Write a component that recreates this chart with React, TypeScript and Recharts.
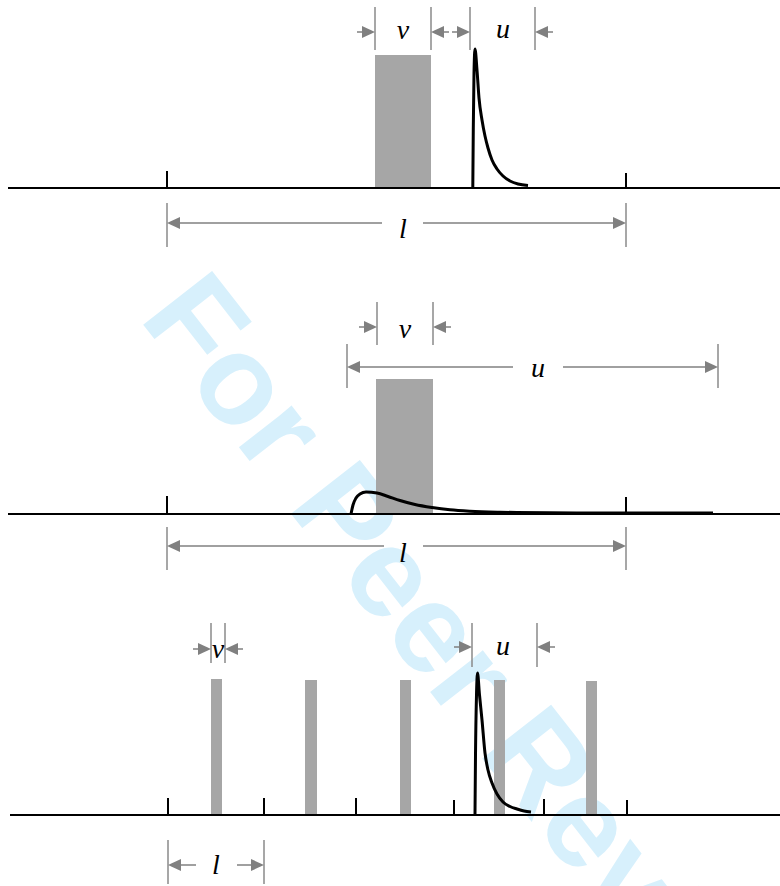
import React from "react";
import { ComposedChart, Line, XAxis, YAxis, ReferenceLine, ReferenceArea, ReferenceDot } from "recharts";

// x = position along the axis, y = amplitude above the baseline (same units in every panel)

// panel 1: one wide pulse, sharp response outside it
const ticks1 = [167, 626];
const tickLen1 = [17, 15];
const pulses1 = [{ x1: 375, x2: 431, h: 133 }];
const response1 = [
  { x: 472.8, y: 1 }, { x: 473.3, y: 60 }, { x: 474, y: 115 }, { x: 475, y: 139 }, { x: 477, y: 118 },
  { x: 479, y: 90 }, { x: 482, y: 68 }, { x: 485, y: 52 }, { x: 488, y: 40 },
  { x: 492, y: 28 }, { x: 497, y: 19 }, { x: 503, y: 12 }, { x: 510, y: 7 },
  { x: 518, y: 4 }, { x: 528, y: 2.5 },
];
const dims1 = [
  { kind: "in", x1: 375, x2: 431, lo: 138, hi: 181, at: 156, label: "ν", lx: 403, ly: 149 },
  { kind: "in", x1: 470, x2: 535, lo: 138, hi: 181, at: 156, label: "u", lx: 503, ly: 150 },
  { kind: "out", x1: 167, x2: 626, lo: -59, hi: -15, at: -35, gap: [382, 423], label: "l", lx: 403, ly: -50 },
];

// panel 2: same pulse, long low response
const ticks2 = [167, 626];
const tickLen2 = [18, 17];
const pulses2 = [{ x1: 376, x2: 433, h: 135 }];
const response2 = [
  { x: 351, y: 0 }, { x: 353, y: 9 }, { x: 356, y: 16 }, { x: 360, y: 20 },
  { x: 366, y: 22 }, { x: 377, y: 21 }, { x: 388, y: 17.5 }, { x: 400, y: 13.5 },
  { x: 415, y: 9.5 }, { x: 432, y: 6.5 }, { x: 450, y: 4.2 }, { x: 470, y: 2.8 },
  { x: 500, y: 1.8 }, { x: 550, y: 1.2 }, { x: 620, y: 1 }, { x: 713, y: 1 },
];
const dims2 = [
  { kind: "in", x1: 377, x2: 433, lo: 169, hi: 212, at: 187, label: "ν", lx: 405, ly: 176 },
  { kind: "out", x1: 347, x2: 718, lo: 126, hi: 170, at: 147, gap: [513, 563], label: "u", lx: 538, ly: 137 },
  { kind: "out", x1: 167, x2: 626, lo: -56, hi: -13, at: -32, gap: [384, 423], label: "l", lx: 403, ly: -48 },
];

// panel 3: periodic narrow pulses
const ticks3 = [168, 264, 356, 454, 544, 627];
const tickLen3 = [17, 17, 17, 15, 16, 15];
const pulses3 = [
  { x1: 211, x2: 222, h: 136 }, { x1: 305, x2: 317, h: 135 }, { x1: 400, x2: 411, h: 135 },
  { x1: 494, x2: 505, h: 135 }, { x1: 586, x2: 597, h: 134 },
];
const response3 = [
  { x: 475, y: 1 }, { x: 475.5, y: 60 }, { x: 476.5, y: 120 }, { x: 477.5, y: 142 }, { x: 479.5, y: 120 },
  { x: 482, y: 95 }, { x: 485, y: 62 }, { x: 488, y: 45 }, { x: 492, y: 32 },
  { x: 497, y: 21 }, { x: 503, y: 13 }, { x: 510, y: 8.5 }, { x: 517, y: 6 },
  { x: 524, y: 4 }, { x: 531, y: 3 },
];
const dims3 = [
  { kind: "in", x1: 211, x2: 225, lo: 152, hi: 192, at: 166, label: "ν", lx: 218, ly: 157 },
  { kind: "in", x1: 472, x2: 537, lo: 148, hi: 192, at: 168, label: "u", lx: 503, ly: 160 },
  { kind: "out", x1: 168, x2: 264, lo: -69, hi: -25, at: -50, gap: [196, 237], label: "l", lx: 216, ly: -59 },
];

const GRAY = "#808080";

const Arrow = (p: any) => {
  const { x1, y1, x2, y2 } = p;
  const dx = x2 - x1, dy = y2 - y1;
  const len = Math.hypot(dx, dy) || 1;
  const ux = dx / len, uy = dy / len;
  const bx = x2 - ux * 13, by = y2 - uy * 13;
  return (
    <g>
      <line x1={x1} y1={y1} x2={bx} y2={by} stroke={GRAY} strokeWidth={1.5} />
      <polygon points={`${x2},${y2} ${bx - uy * 6},${by + ux * 6} ${bx + uy * 6},${by - ux * 6}`} fill={GRAY} />
    </g>
  );
};

const symbol = (txt: string) => (p: any) => (
  <text x={p.cx} y={p.cy} textAnchor="middle" fontFamily="Liberation Serif" fontStyle="italic" fontSize={28} fill="#000">
    {txt}
  </text>
);

function renderDim(d: any, i: number) {
  const out = [
    <ReferenceLine key={`e1${i}`} segment={[{ x: d.x1, y: d.lo }, { x: d.x1, y: d.hi }]} stroke="#8a8a8a" strokeWidth={1.5} />,
    <ReferenceLine key={`e2${i}`} segment={[{ x: d.x2, y: d.lo }, { x: d.x2, y: d.hi }]} stroke="#8a8a8a" strokeWidth={1.5} />,
  ];
  const from1 = d.kind === "in" ? d.x1 - 18 : d.gap[0];
  const from2 = d.kind === "in" ? d.x2 + 18 : d.gap[1];
  out.push(<ReferenceLine key={`a1${i}`} segment={[{ x: from1, y: d.at }, { x: d.x1, y: d.at }]} shape={Arrow} />);
  out.push(<ReferenceLine key={`a2${i}`} segment={[{ x: from2, y: d.at }, { x: d.x2, y: d.at }]} shape={Arrow} />);
  out.push(<ReferenceDot key={`l${i}`} x={d.lx} y={d.ly} r={0} shape={symbol(d.label)} />);
  return out;
}

function Panel({ top, height, domain, start, ticks, tickLens, pulses, response, dims }: any) {
  return (
    <div style={{ position: "absolute", left: 0, top, width: 780, height }}>
      <ComposedChart width={780} height={height} data={response} margin={{ top: 0, right: 0, bottom: 0, left: 0 }}>
        <XAxis hide type="number" dataKey="x" domain={[0, 780]} allowDataOverflow />
        <YAxis hide type="number" domain={domain} allowDataOverflow />
        {pulses.map((p: any, i: number) => (
          <ReferenceArea key={`p${i}`} x1={p.x1} x2={p.x2} y1={0} y2={p.h} fill="#a6a6a6" fillOpacity={1} stroke="none" />
        ))}
        <ReferenceLine segment={[{ x: start, y: 0 }, { x: 780, y: 0 }]} stroke="#000" strokeWidth={2} />
        {ticks.map((t: number, i: number) => (
          <ReferenceLine key={`t${i}`} segment={[{ x: t, y: 0 }, { x: t, y: tickLens[i] }]} stroke="#000" strokeWidth={2} />
        ))}
        {dims.flatMap(renderDim)}
        <Line type="monotone" dataKey="y" stroke="#000" strokeWidth={3} dot={false} activeDot={false} isAnimationActive={false} />
      </ComposedChart>
    </div>
  );
}

export default function App() {
  return (
    <div style={{ position: "absolute", left: 0, top: 0, width: 780, height: 886, overflow: "hidden", background: "#fff" }}>
      <svg width={780} height={886} style={{ position: "absolute", left: 0, top: 0 }}>
        <text x={138} y={318} transform="rotate(52 138 318)" fontFamily="Liberation Sans" fontWeight="bold" fontSize={127} fill="#d7f0fc">
          For Peer Review
        </text>
      </svg>
      <Panel top={0} height={280} domain={[-92, 188]} start={8} ticks={ticks1} tickLens={tickLen1} pulses={pulses1} response={response1} dims={dims1} />
      <Panel top={280} height={310} domain={[-76, 234]} start={8} ticks={ticks2} tickLens={tickLen2} pulses={pulses2} response={response2} dims={dims2} />
      <Panel top={590} height={296} domain={[-71, 225]} start={10} ticks={ticks3} tickLens={tickLen3} pulses={pulses3} response={response3} dims={dims3} />
    </div>
  );
}
